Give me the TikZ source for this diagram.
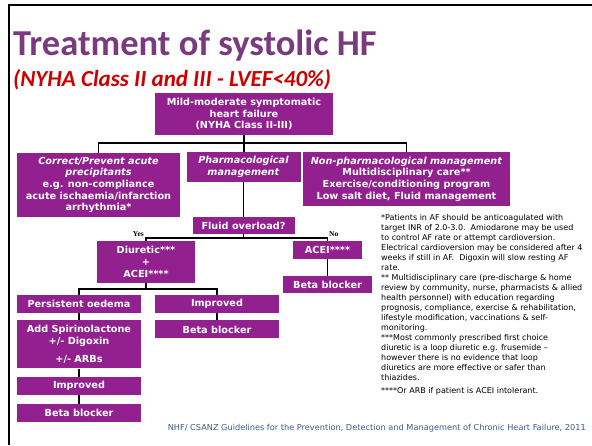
\documentclass[tikz,border=0pt]{standalone}
\usepackage{fontspec}
\setmainfont{DejaVu Sans}
\newfontfamily\titlefont{Carlito}
\newfontfamily\labelfont{Liberation Serif}
\usetikzlibrary{positioning}
\definecolor{hfPurple}{HTML}{92208F}
\definecolor{hfTitle}{HTML}{7A3A7E}
\definecolor{hfRed}{HTML}{CC0000}
\definecolor{hfBlue}{HTML}{3B5A8E}
\tikzset{
  hf box/.style={fill=hfPurple,text=white,align=center,inner sep=1pt,
    font=\fontsize{9.7}{11.7}\selectfont\bfseries},
  hf line/.style={draw=black,line width=1.5pt},
  branch label/.style={font=\labelfont\bfseries\fontsize{7.5}{8}\selectfont,inner sep=0pt},
  note text/.style={align=left,inner sep=0pt,font=\fontsize{8}{10}\selectfont}
}

\begin{document}
\begin{tikzpicture}[x=1pt,y=-1pt]
\useasboundingbox (0,0) rectangle (592,445);
\draw[line width=2pt] (9,445) -- (9,5) -- (592,5);
\node[anchor=base west,inner sep=0pt,text=hfTitle,font=\titlefont\bfseries\fontsize{36.5}{40}\selectfont] (title) at (13,55) {Treatment of systolic HF};
\node[anchor=base west,inner sep=0pt,text=hfRed,font=\titlefont\bfseries\itshape\fontsize{23}{26}\selectfont] (subtitle) at (13,86) {(NYHA Class II and III - LVEF<40\%)};
\node[hf box,minimum width=178pt,minimum height=42pt] (hf) at (244,114) {Mild-moderate symptomatic\\heart failure\\(NYHA Class II-III)};
\node[hf box,minimum width=163pt,minimum height=64pt] (precip) at (98.5,185) {\textit{Correct/Prevent acute}\\\textit{precipitants}\\e.g. non-compliance\\acute ischaemia/infarction\\arrhythmia*};
\node[hf box,minimum width=114pt,minimum height=30pt] (pharm) at (243.5,167) {\textit{Pharmacological}\\\textit{management}};
\node[hf box,minimum width=207pt,minimum height=54pt] (nonpharm) at (406.5,179) {\textit{Non-pharmacological management}\\Multidisciplinary care**\\Exercise/conditioning program\\Low salt diet, Fluid management};
\node[hf box,minimum width=102pt,minimum height=17pt] (fluid) at (243.5,225.5) {Fluid overload?};
\node[hf box,minimum width=98pt,minimum height=42pt] (diuretic) at (146,262) {Diuretic***\\+\\ACEI****};
\node[hf box,minimum width=69pt,minimum height=18pt] (acei) at (327.5,250) {ACEI****};
\node[hf box,minimum width=89pt,minimum height=17pt,below=17pt of acei] (betaA) {Beta blocker};
\node[hf box,minimum width=124pt,minimum height=18pt] (oedema) at (79,304) {Persistent oedema};
\node[hf box,minimum width=124pt,minimum height=18pt] (improvedA) at (217,304) {Improved};
\node[hf box,minimum width=124pt,minimum height=18pt,below=7pt of improvedA] (betaB) {Beta blocker};
\node[hf box,minimum width=124pt,minimum height=48pt,below=7pt of oedema] (spiro) {Add Spirinolactone\\+/- Digoxin\\[6pt]+/- ARBs};
\node[hf box,minimum width=124pt,minimum height=18pt,below=8pt of spiro] (improvedB) {Improved};
\node[hf box,minimum width=124pt,minimum height=18pt,below=9pt of improvedB] (betaC) {Beta blocker};
% connectors
\draw[hf line] (hf.south) -- ++(0,8) coordinate (hfsplit);
\draw[hf line] (precip.north) |- (hfsplit) -| (nonpharm.north);
\draw[hf line] (hfsplit) -- (hfsplit |- pharm.north);
\draw[hf line] (pharm) -- (fluid);
\draw[hf line] (fluid.south) -- ++(0,4) coordinate (fluidsplit);
\draw[hf line] (diuretic.north) |- (fluidsplit) -| (acei.north);
\node[branch label,anchor=base east] (yes) at (144,236.5) {Yes};
\node[branch label,anchor=base west] (no) at (329,236.5) {No};
\draw[hf line] (acei) -- (betaA);
\draw[hf line] (diuretic.south) -- ++(0,6) coordinate (diursplit);
\draw[hf line] (oedema.north) |- (diursplit) -| (improvedA.north);
\draw[hf line] (improvedA) -- (betaB);
\draw[hf line] (oedema) -- (spiro);
\draw[hf line] (spiro) -- (improvedB);
\draw[hf line] (improvedB) -- (betaC);
% footnotes
\node[note text,anchor=north west] (notes) at (381,214) {*Patients in AF should be anticoagulated with\\
target INR of 2.0-3.0.\ \ Amiodarone may be used\\
to control AF rate or attempt cardioversion.\\
Electrical cardioversion may be considered after 4\\
weeks if still in AF.\ \ Digoxin will slow resting AF\\
rate.\\
** Multidisciplinary care (pre-discharge \& home\\
review by community, nurse, pharmacists \& allied\\
health personnel) with education regarding\\
prognosis, compliance, exercise \& rehabilitation,\\
lifestyle modification, vaccinations \& self-\\
monitoring.\\
***Most commonly prescribed first choice\\
diuretic is a loop diuretic e.g. frusemide –\\
however there is no evidence that loop\\
diuretics are more effective or safer than\\
thiazides.\\[3pt]
****Or ARB if patient is ACEI intolerant.};
\node[anchor=base east,inner sep=0pt,text=hfBlue,font=\fontsize{8.2}{10}\selectfont] (source) at (586,430) {NHF/ CSANZ Guidelines for the Prevention, Detection and Management of Chronic Heart Failure, 2011};
\end{tikzpicture}
\end{document}
